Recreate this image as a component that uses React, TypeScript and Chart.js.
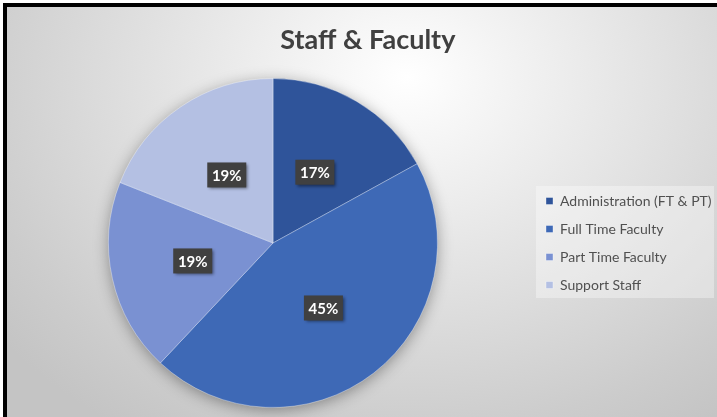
import React, { useEffect, useRef } from "react";
import { Chart, registerables } from "chart.js";

Chart.register(...registerables);

// ---- data ----
const categories = ["Administration (FT & PT)", "Full Time Faculty", "Part Time Faculty", "Support Staff"];
const shares = [17, 45, 19, 19];
const percentLabels = ["17%", "45%", "19%", "19%"];
const sliceColors = ["#2F549A", "#3E69B6", "#7A91D2", "#B4C0E3"];
const chartTitle = "Staff & Faculty";

// ---- layout constants ----
const CANVAS_W = 900;
const CANVAS_H = 417;
const LEGEND_FONT = 14;
const LEGEND_PAD = 14;
const LEGEND_BOX = 7;
const LEGEND_MARK_X = 546;
const PIE_CX = 273;
const FONT = "Lato, 'Open Sans', sans-serif";

export default function App() {
  const ref = useRef<HTMLCanvasElement | null>(null);

  useEffect(() => {
    const canvas = ref.current;
    if (!canvas) return;

    const m = document.createElement("canvas").getContext("2d")!;
    m.font = `${LEGEND_FONT}px ${FONT}`;
    const maxText = Math.max(...categories.map((c) => m.measureText(c).width));
    const legendLeft = LEGEND_MARK_X - LEGEND_PAD;
    const legendWidth = LEGEND_PAD + LEGEND_BOX + LEGEND_FONT / 2 + maxText + 10;
    const padRight = Math.max(0, CANVAS_W - legendLeft - legendWidth);
    const padLeft = 2 * PIE_CX - legendLeft;

    const decor = {
      id: "decor",
      beforeDraw(chart: any) {
        const lg = chart.legend;
        if (!lg) return;
        const ctx = chart.ctx;
        const colH = categories.length * (LEGEND_FONT + LEGEND_PAD);
        const start = (lg.top + LEGEND_PAD + lg.bottom - colH) / 2;
        ctx.save();
        ctx.fillStyle = "rgba(255,255,255,0.35)";
        ctx.fillRect(lg.left + LEGEND_PAD - 10, start - 8, 178, colH);
        ctx.restore();
      },
      beforeDatasetsDraw(chart: any) {
        const meta = chart.getDatasetMeta(0);
        const arc = meta.data[0];
        if (!arc) return;
        const { x, y, outerRadius } = arc.getProps(["x", "y", "outerRadius"], true);
        const ctx = chart.ctx;
        ctx.save();
        ctx.shadowColor = "rgba(0,0,0,0.4)";
        ctx.shadowBlur = 16;
        ctx.shadowOffsetY = 3;
        ctx.fillStyle = sliceColors[1];
        ctx.beginPath();
        ctx.arc(x, y, outerRadius - 1, 0, Math.PI * 2);
        ctx.fill();
        ctx.restore();
      },
      afterDatasetsDraw(chart: any) {
        const meta = chart.getDatasetMeta(0);
        const ctx = chart.ctx;
        ctx.save();
        ctx.font = `bold 15px ${FONT}`;
        ctx.textAlign = "center";
        ctx.textBaseline = "middle";
        meta.data.forEach((arc: any, i: number) => {
          const p = arc.tooltipPosition(true);
          const w = 39;
          const h = 25;
          ctx.save();
          ctx.shadowColor = "rgba(0,0,0,0.45)";
          ctx.shadowBlur = 3;
          ctx.shadowOffsetX = 2;
          ctx.shadowOffsetY = 2;
          ctx.fillStyle = "#404040";
          ctx.fillRect(p.x - w / 2, p.y - h / 2, w, h);
          ctx.restore();
          ctx.fillStyle = "#FFFFFF";
          ctx.fillText(percentLabels[i], p.x, p.y + 1);
        });
        ctx.restore();
      },
    };

    const chart = new Chart(canvas, {
      type: "pie",
      data: {
        labels: categories,
        datasets: [
          {
            data: shares,
            backgroundColor: sliceColors,
            borderColor: "rgba(255,255,255,0.35)",
            borderWidth: 1,
          },
        ],
      },
      options: {
        responsive: false,
        animation: false,
        devicePixelRatio: 1,
        layout: { padding: { left: padLeft, right: padRight, top: 0, bottom: 9 } },
        plugins: {
          title: {
            display: true,
            text: chartTitle,
            color: "#404040",
            font: { family: FONT, size: 27, weight: "bold" },
            padding: { top: 24, bottom: 21.6 },
          },
          legend: {
            position: "right",
            fullSize: false,
            labels: {
              boxWidth: LEGEND_BOX,
              boxHeight: LEGEND_BOX,
              padding: LEGEND_PAD,
              color: "#505050",
              font: { family: FONT, size: LEGEND_FONT },
            },
          },
          tooltip: { enabled: false },
        },
      },
      plugins: [decor],
    });
    return () => chart.destroy();
  }, []);

  return (
    <div
      style={{
        position: "fixed",
        left: 0,
        top: 0,
        width: 717,
        height: 417,
        overflow: "hidden",
        background: "#ffffff",
      }}
    >
      <div
        style={{
          position: "absolute",
          left: 7,
          top: 7,
          right: 0,
          bottom: 0,
          background:
            "radial-gradient(ellipse 520px 420px at 400px 70px, #ffffff 0%, #f4f4f4 18%, #dedede 55%, #cccccc 85%, #c4c4c4 100%)",
        }}
      />
      <canvas
        ref={ref}
        width={CANVAS_W}
        height={CANVAS_H}
        style={{ position: "absolute", left: 0, top: 0, width: CANVAS_W, height: CANVAS_H }}
      />
      <div
        style={{
          position: "absolute",
          left: 3,
          top: 3,
          width: 720,
          height: 420,
          borderLeft: "4px solid #000",
          borderTop: "4px solid #000",
          pointerEvents: "none",
        }}
      />
    </div>
  );
}
